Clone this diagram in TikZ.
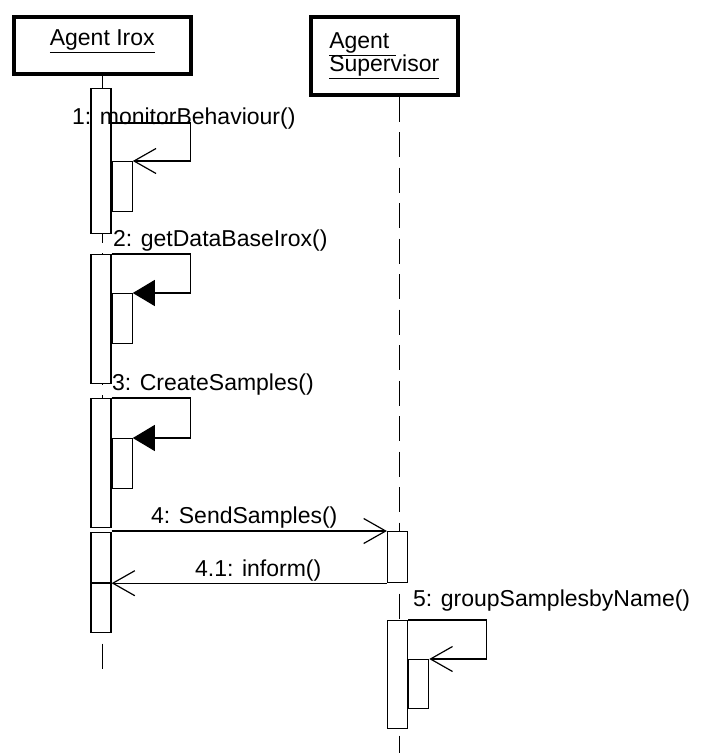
\documentclass[tikz,border=0pt]{standalone}
\usepackage{fontspec}
\setmainfont{Liberation Sans}
\usepackage{tikz}
\usetikzlibrary{arrows.meta,positioning,calc}

\begin{document}
\begin{tikzpicture}[x=1pt,y=-1pt,
  obj/.style={draw, line width=3.5pt, inner sep=0pt, font=\fontsize{23}{28}\selectfont},
  act/.style={draw, fill=white, line width=1.2pt, minimum width=20pt, inner sep=0pt, anchor=north},
  life/.style={line width=1.2pt, dash pattern=on 25pt off 10.5pt},
  msg/.style={line width=1.2pt},
  lbl/.style={font=\fontsize{23}{28}\selectfont, inner sep=0pt, anchor=base west},
  openhead/.style={-{Straight Barb[length=22pt,width=25pt]}},
  fullhead/.style={-{Triangle[length=22pt,width=26pt]}}]
\useasboundingbox (0,0) rectangle (708,753);
% objects
\node[obj, anchor=north west, minimum width=177pt, minimum height=57pt, text depth=15pt] (irox) at (12,15) {\underline{Agent Irox}};
\node[obj, anchor=north west, minimum width=147pt, minimum height=78pt, align=left] (sup) at (309,15) {\underline{Agent~}\\[-5pt]\underline{Supervisor}};
% lifelines
\draw[life] (irox.south) -- ++(0,595);
\draw[life] ([xshift=15pt]sup.south) -- ++(0,660);
% activations
\foreach \n/\t/\h in {1/88/145, 2/254/129, 3/398/129, 4/532/100} {
  \node[act, minimum height=\h pt] (irox\n) at (101,\t) {};
}
\node[act, minimum height=51pt] (sup1) at (397.5,531) {};
\node[act, minimum height=108pt] (sup2) at (397.5,620) {};
\foreach \n/\t in {1/161, 2/293, 3/438} {
  \node[act, anchor=north west, minimum height=50pt] (nest\n) at (irox\n.east |- 0,\t) {};
}
\node[act, anchor=north west, minimum height=49pt] (nest5) at (sup2.east |- 0,659) {};
% messages
\draw[msg, openhead] (irox1.east |- 0,123) -- ++(79,0) |- (nest1.north east);
\node[lbl] (l1) at (72,124) {1: monitorBehaviour()};
\draw[msg, fullhead] (irox2.north east) -- ++(79,0) |- (nest2.north east);
\node[lbl] (l2) at (113,246) {2: getDataBaseIrox()};
\draw[msg, fullhead] (irox3.north east) -- ++(79,0) |- (nest3.north east);
\node[lbl] (l3) at (112,390) {3: CreateSamples()};
\draw[msg, openhead] (irox4.east |- sup1.north) -- (sup1.north west);
\node[lbl] (l4) at (151,523) {4: SendSamples()};
\draw[msg, openhead] (sup1.south west) -- (sup1.south west -| irox4.east);
\draw[line width=2.5pt] (irox4.west |- sup1.south) -- (irox4.east |- sup1.south);
\node[lbl] (l41) at (195,576) {4.1: inform()};
\draw[msg, openhead] (sup2.north east) -- ++(78,0) |- (nest5.north east);
\node[lbl] (l5) at (413,606) {5: groupSamplesbyName()};
\end{tikzpicture}
\end{document}
